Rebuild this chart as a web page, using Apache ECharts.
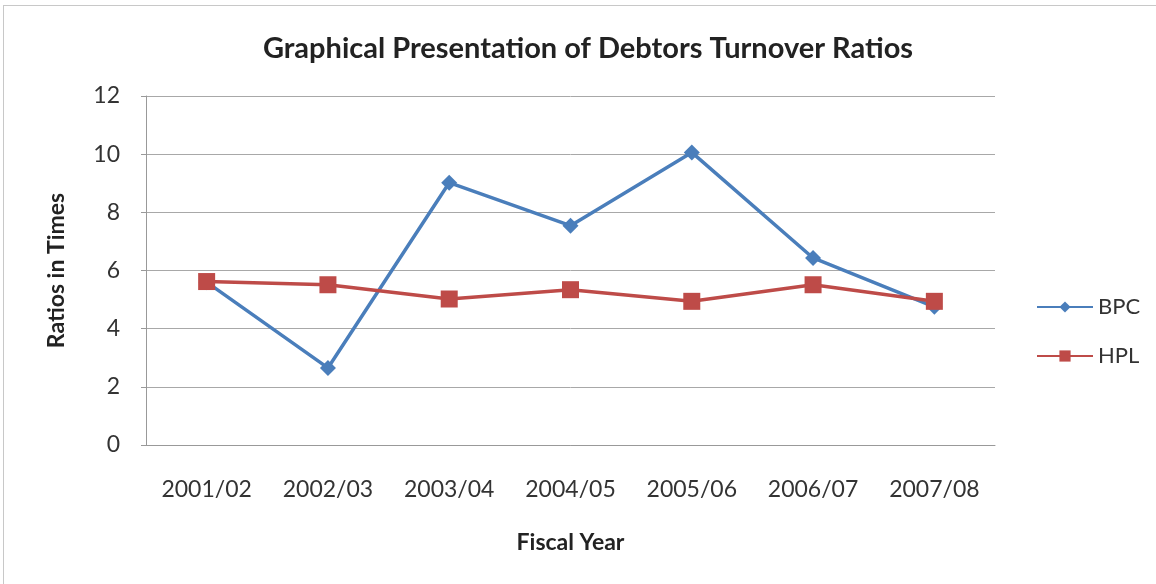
<!DOCTYPE html>
<html>
<head>
<meta charset="utf-8">
<script src="https://cdn.jsdelivr.net/npm/echarts@6/dist/echarts.min.js"></script>
<style>
    html, body { margin: 0; padding: 0; background: #fff; }
    #main { position: absolute; left: 0; top: 0; width: 1156px; height: 584px; }
    #frame { position: absolute; left: 3px; top: 5px; width: 1160px; height: 590px; border: 1px solid #c8c8c8; }
</style>
</head>
<body>
<div id="frame"></div>
<div id="main"></div>
<script>
    // 数据
    var years = ['2001/02', '2002/03', '2003/04', '2004/05', '2005/06', '2006/07', '2007/08'];
    var bpc = [5.6, 2.65, 9.02, 7.54, 10.06, 6.43, 4.75];
    var hpl = [5.62, 5.51, 5.02, 5.34, 4.94, 5.51, 4.94];
    var yTicks = [0, 2, 4, 6, 8, 10, 12];

    var fontFam = 'Lato, "Open Sans", sans-serif';
    var myChart = echarts.init(document.getElementById('main'));

    var option = {
        animation: false,
        title: {
            text: 'Graphical Presentation of Debtors Turnover Ratios',
            left: 583,
            textAlign: 'center',
            top: 29,
            textStyle: { fontFamily: fontFam, fontSize: 29, fontWeight: 'bold', color: '#222' }
        },
        legend: {
            orient: 'vertical',
            left: 1031,
            top: 291,
            itemWidth: 56,
            itemHeight: 14,
            itemGap: 27,
            textStyle: { fontFamily: fontFam, fontSize: 22, color: '#333' },
            data: ['BPC', 'HPL']
        },
        grid: {
            left: 146,
            right: 161,
            top: 96,
            bottom: 139
        },
        xAxis: [{
            type: 'category',
            data: years,
            boundaryGap: true,
            name: 'Fiscal Year',
            nameLocation: 'middle',
            nameGap: 86,
            nameTextStyle: { fontFamily: fontFam, fontSize: 23, fontWeight: 'bold', color: '#222' },
            axisLine: { lineStyle: { color: '#999', width: 1 } },
            axisTick: { show: false },
            axisLabel: { fontFamily: fontFam, fontSize: 23, color: '#333', margin: 33 }
        }],
        yAxis: [{
            type: 'value',
            min: yTicks[0],
            max: yTicks[yTicks.length - 1],
            interval: 2,
            name: 'Ratios in Times',
            nameLocation: 'middle',
            nameGap: 78,
            nameTextStyle: { fontFamily: fontFam, fontSize: 23, fontWeight: 'bold', color: '#222' },
            axisLine: { show: true, lineStyle: { color: '#999', width: 1 } },
            axisTick: { show: true, length: 5, lineStyle: { color: '#999' } },
            axisLabel: { fontFamily: fontFam, fontSize: 23, color: '#333', margin: 26 },
            splitLine: { lineStyle: { color: '#a8a8a8', width: 1 } }
        }],
        series: [{
            name: 'BPC',
            type: 'line',
            data: bpc,
            symbol: 'diamond',
            symbolSize: 16,
            itemStyle: { color: '#4a7ebb' },
            lineStyle: { color: '#4a7ebb', width: 3.5 }
        }, {
            name: 'HPL',
            type: 'line',
            data: hpl,
            symbol: 'rect',
            symbolSize: 17,
            itemStyle: { color: '#be4b48' },
            lineStyle: { color: '#be4b48', width: 3.5 }
        }]
    };

    myChart.setOption(option);
</script>
</body>
</html>
